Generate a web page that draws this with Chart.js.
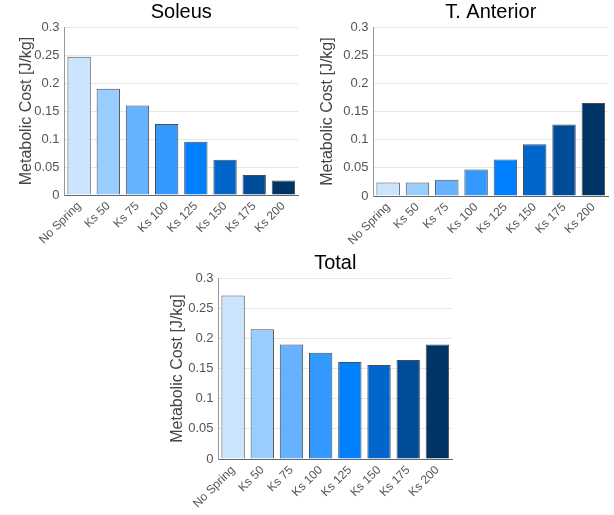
<!DOCTYPE html>
<html lang="en">
<head>
  <meta charset="UTF-8" />
  <title>Metabolic Cost</title>
  <script src="https://cdn.jsdelivr.net/npm/chart.js"></script>
  <style>
    body {
      margin: 0;
      padding: 0;
      background: #fff;
    }

    .wrap {
      position: relative;
      width: 614px;
      height: 515px;
    }

    .chart-box {
      position: absolute;
    }

    #soleusBox { left: 0; top: 0; width: 305px; height: 258px; }
    #tibialisBox { left: 305px; top: 0; width: 309px; height: 258px; }
    #totalBox { left: 150px; top: 250px; width: 310px; height: 265px; }
  </style>
</head>
<body>
  <div class="wrap">
    <div class="chart-box" id="soleusBox"><canvas id="soleusChart"></canvas></div>
    <div class="chart-box" id="tibialisBox"><canvas id="tibialisChart"></canvas></div>
    <div class="chart-box" id="totalBox"><canvas id="totalChart"></canvas></div>
  </div>

  <script>
    // categories
    const springLabels = ['No Spring', 'Ks 50', 'Ks 75', 'Ks 100', 'Ks 125', 'Ks 150', 'Ks 175', 'Ks 200'];

    // metabolic cost values [J/kg]
    const soleusCost = [0.247, 0.190, 0.160, 0.127, 0.095, 0.063, 0.036, 0.026];
    const tibialisCost = [0.024, 0.024, 0.029, 0.047, 0.065, 0.092, 0.127, 0.165];
    const totalCost = [0.271, 0.215, 0.190, 0.176, 0.161, 0.156, 0.164, 0.190];

    // y tick labels
    const costTicks = [0, 0.05, 0.1, 0.15, 0.2, 0.25, 0.3];

    // one colour per spring setting
    const barColors = ['#cce5ff', '#99ccff', '#66b2ff', '#3399ff', '#0080ff', '#0066cc', '#004c99', '#003366'];

    const fontFamily = "'Liberation Sans', Arial, Helvetica, sans-serif";

    function createChart(canvasId, title, values, padding, titleGap) {
      const config = {
        type: 'bar',
        data: {
          labels: springLabels,
          datasets: [{
            label: title,
            data: values,
            backgroundColor: barColors,
            borderColor: '#4d4d4d',
            borderWidth: 1,
            barPercentage: 0.8,
            categoryPercentage: 1.0
          }]
        },
        options: {
          responsive: true,
          maintainAspectRatio: false,
          animation: false,
          layout: { padding: padding },
          plugins: {
            legend: { display: false },
            tooltip: { enabled: false },
            title: {
              display: true,
              fullSize: false, // centre over the plot area
              text: title,
              color: '#000',
              font: { family: fontFamily, size: 20, weight: 'normal' },
              padding: { top: 0, bottom: 3 }
            }
          },
          scales: {
            x: {
              grid: { display: false, drawTicks: false },
              border: { display: true, color: '#666', width: 1 },
              ticks: {
                color: '#555',
                font: { family: fontFamily, size: 12 },
                maxRotation: 45,
                minRotation: 45,
                padding: 4
              }
            },
            y: {
              min: 0,
              max: 0.3,
              afterBuildTicks: axis => {
                axis.ticks = costTicks.map(v => ({ value: v }));
              },
              grid: { color: '#e6e6e6', drawTicks: false },
              border: { display: true, color: '#999', width: 1 },
              ticks: {
                color: '#555',
                font: { family: fontFamily, size: 13 },
                padding: 5,
                callback: v => String(Number(v.toFixed(2)))
              },
              title: {
                display: true,
                text: 'Metabolic Cost [J/kg]',
                color: '#444',
                font: { family: fontFamily, size: 16 },
                padding: { top: 0, bottom: titleGap }
              }
            }
          }
        }
      };
      return new Chart(document.getElementById(canvasId), config);
    }

    createChart('soleusChart', 'Soleus', soleusCost, { left: 17, right: 7, top: 0, bottom: 7 }, -7);
    createChart('tibialisChart', 'T. Anterior', tibialisCost, { left: 13, right: 6, top: 0, bottom: 6 }, 1);
    createChart('totalChart', 'Total', totalCost, { left: 18, right: 8, top: 1, bottom: 0 }, -4);
  </script>
</body>
</html>
